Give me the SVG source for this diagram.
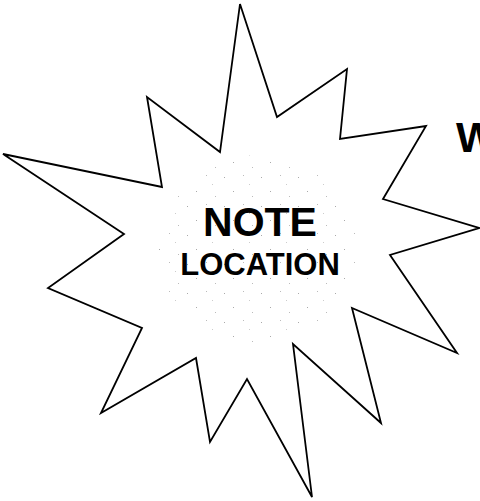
<svg xmlns="http://www.w3.org/2000/svg" width="480" height="501" viewBox="0 0 480 501">
<style>
.lbl{font-family:"Liberation Sans",Arial,sans-serif;font-weight:bold;fill:#000}
.star{fill:#fff;stroke:#000;stroke-width:1.8;stroke-linejoin:miter}
</style>
<defs>
<pattern id="stip" width="37" height="29" patternUnits="userSpaceOnUse">
<rect x="2" y="3" width="1" height="1" fill="#aaa"/>
<rect x="21" y="1" width="1" height="1" fill="#bbb"/>
<rect x="11" y="17" width="1" height="1" fill="#aaa"/>
<rect x="30" y="22" width="1" height="1" fill="#bbb"/>
<rect x="27" y="10" width="1" height="1" fill="#ccc"/>
</pattern>
</defs>
<rect width="480" height="501" fill="#fff"/>
<g id="starburst">
<polygon class="star" points="240,4 277,117 347,69 340,139 426,126 383,199 479,228 390,255 457,353 352,308 381,423 293,344 312,497 247,379 210,442 196,358 101,413 142,328 48,288 124,234 3,154 162,187 147,97 220,152"/>
<ellipse cx="258" cy="250" rx="100" ry="95" fill="url(#stip)"/>
</g>
<g id="note">
<text class="lbl" x="260" y="236" font-size="41" text-anchor="middle">NOTE</text>
<text class="lbl" x="260" y="275" font-size="31" text-anchor="middle">LOCATION</text>
</g>
<g id="w">
<text class="lbl" x="456" y="152" font-size="43">W</text>
</g>
</svg>
